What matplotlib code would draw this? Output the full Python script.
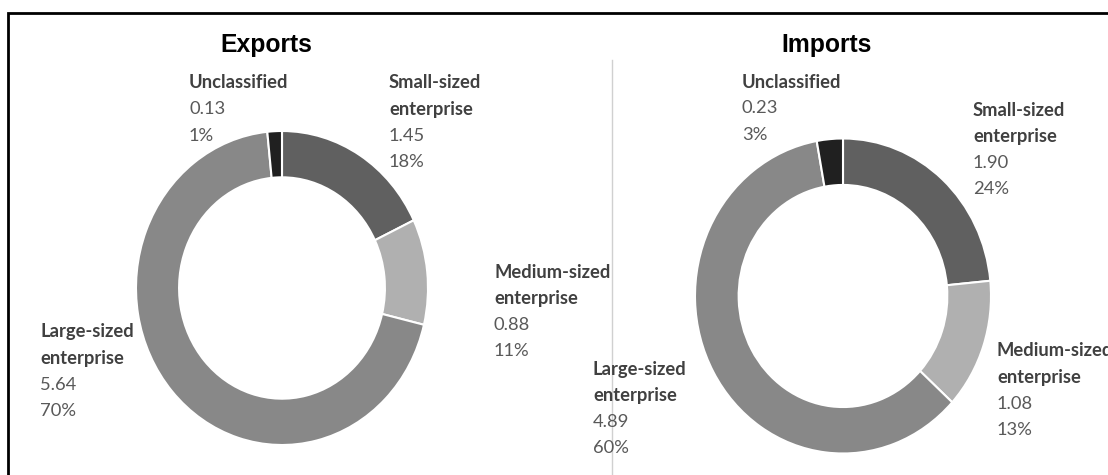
import matplotlib.pyplot as plt
from matplotlib.patches import Rectangle

# ------------------------------
#    DATA
# ------------------------------

categories = ['Small-sized\nenterprise', 'Medium-sized\nenterprise', 'Large-sized\nenterprise', 'Unclassified']
export_values = [1.45, 0.88, 5.64, 0.13]
export_pcts = [18, 11, 70, 1]
import_values = [1.90, 1.08, 4.89, 0.23]
import_pcts = [24, 13, 60, 3]
slice_colors = ['#606060', '#b0b0b0', '#888888', '#202020']

W, H = 1108, 475
fig = plt.figure(figsize=(W / 100, H / 100), dpi=100)


def px_axes(cx, cy, rx, ry):
    """Axes placed in pixel coords (origin top-left) around a donut centre."""
    return fig.add_axes([(cx - rx) / W, (H - cy - ry) / H, 2 * rx / W, 2 * ry / H])


def draw_donut(ax, values):
    ax.pie(values, colors=slice_colors, startangle=90, counterclock=False, radius=1,
           wedgeprops={'width': 0.295, 'edgecolor': 'white', 'linewidth': 1.5})
    ax.set_aspect('auto')
    ax.set_xlim(-1, 1)
    ax.set_ylim(-1, 1)
    ax.axis('off')


def label(x, y, name, value, pct):
    # x, y: pixel position of the first line's centre (top-left origin)
    lines = name.split('\n')
    step = 26.3
    for i, ln in enumerate(lines):
        fig.text(x / W, 1 - (y + i * step) / H, ln, fontsize=13.2, fontweight='bold',
                 family='Lato', color='#404040', ha='left', va='center')
    n = len(lines)
    fig.text(x / W, 1 - (y + n * step) / H, f'{value:.2f}', fontsize=13.2,
             family='Lato', color='#595959', ha='left', va='center')
    fig.text(x / W, 1 - (y + (n + 1) * step) / H, f'{pct}%', fontsize=13.2,
             family='Lato', color='#595959', ha='left', va='center')


ax_exp = px_axes(282, 288, 146, 157)
draw_donut(ax_exp, export_values)
ax_imp = px_axes(843, 296, 148, 157.5)
draw_donut(ax_imp, import_values)

# label anchors (pixels) in category order
exp_pos = [(389, 83), (494, 272), (40, 332), (189, 83)]
imp_pos = [(973, 110), (997, 351), (593, 369), (742, 82)]
for (x, y), name, v, p in zip(exp_pos, categories, export_values, export_pcts):
    label(x, y, name, v, p)
for (x, y), name, v, p in zip(imp_pos, categories, import_values, import_pcts):
    label(x, y, name, v, p)

fig.text(266 / W, 1 - 45 / H, 'Exports', fontsize=17.8, fontweight='bold',
         family='Liberation Sans', ha='center', va='center')
fig.text(827 / W, 1 - 45 / H, 'Imports', fontsize=17.8, fontweight='bold',
         family='Liberation Sans', ha='center', va='center')

# separator and outer frame
fig.add_artist(plt.Line2D([612 / W, 612 / W], [0, 1 - 60 / H], color='#d0d0d0', lw=1))
fig.add_artist(Rectangle((8 / W, -0.1), 1.2, 1.1 - 13 / H, transform=fig.transFigure,
                         fill=False, edgecolor='black', lw=2))

fig.savefig('out.png', dpi=100)
